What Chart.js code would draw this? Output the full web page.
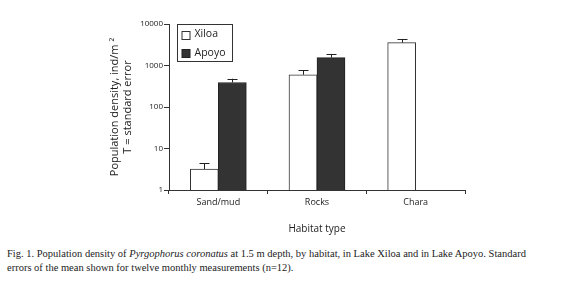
<!DOCTYPE html>
<html lang="en">

<head>
    <meta charset="UTF-8">
    <title>Pyrgophorus coronatus</title>
    <script src="https://cdn.jsdelivr.net/npm/chart.js"></script>
    <style>
        body { margin: 0; background: #fff; }
        .janela { position: relative; width: 580px; height: 283px; background: #fff; }
        #myChart { position: absolute; left: 0; top: 0; }
        .legenda {
            position: absolute; left: 7px; top: 247px;
            font-family: "Liberation Serif", serif; font-size: 10.5px; line-height: 14px; color: #222;
            white-space: nowrap;
        }
    </style>
</head>

<body>
    <div class="janela">
        <canvas id="myChart" width="580" height="240"></canvas>
        <div class="legenda">
            Fig. 1. Population density of <i>Pyrgophorus coronatus</i> at 1.5 m depth, by habitat, in Lake Xiloa and in Lake Apoyo. Standard<br>
            errors of the mean shown for twelve monthly measurements (n=12).
        </div>
    </div>
</body>

<script>
    // dados
    var habitats = ['Sand/mud', 'Rocks', 'Chara'];
    var xiloa = [3.2, 600, 3550];
    var xiloaErro = [1.2, 160, 810];
    var apoyo = [390, 1550, null];
    var apoyoErro = [90, 350, null];
    var yTicks = [1, 10, 100, 1000, 10000];

    var fonte = 'Open Sans, Liberation Sans, sans-serif';
    var corTexto = '#222';

    // barras de erro (so a parte de cima, com traço)
    const errorBars = {
        id: 'errorBars',
        afterDatasetsDraw(chart) {
            const ctx = chart.ctx;
            const y = chart.scales.y;
            ctx.save();
            ctx.strokeStyle = '#222';
            ctx.lineWidth = 1;
            chart.data.datasets.forEach(function (ds, i) {
                const meta = chart.getDatasetMeta(i);
                meta.data.forEach(function (bar, j) {
                    const v = ds.data[j];
                    const e = ds.erros[j];
                    if (v == null || e == null) return;
                    const topo = y.getPixelForValue(v + e);
                    const x = Math.round(bar.x) + 0.5;
                    ctx.beginPath();
                    ctx.moveTo(x, bar.y);
                    ctx.lineTo(x, topo);
                    ctx.moveTo(x - 5, Math.round(topo) + 0.5);
                    ctx.lineTo(x + 5, Math.round(topo) + 0.5);
                    ctx.stroke();
                });
            });
            ctx.restore();
        }
    };

    // caixa de legenda desenhada a mao
    const caixaLegenda = {
        id: 'caixaLegenda',
        afterDraw(chart) {
            const ctx = chart.ctx;
            const area = chart.chartArea;
            const x0 = area.left + 8.5, y0 = area.top + 0.5;
            ctx.save();
            ctx.strokeStyle = '#333';
            ctx.lineWidth = 1;
            ctx.fillStyle = '#fff';
            ctx.fillRect(x0, y0, 55, 37);
            ctx.strokeRect(x0, y0, 55, 37);
            ctx.font = '10.5px ' + fonte;
            ctx.textBaseline = 'middle';
            chart.data.datasets.forEach(function (ds, i) {
                const cy = y0 + 10 + i * 18.5;
                ctx.fillStyle = ds.backgroundColor;
                ctx.fillRect(x0 + 4.5, Math.round(cy - 4) + 0.5, 8, 8);
                ctx.strokeStyle = ds.borderColor;
                ctx.strokeRect(x0 + 4.5, Math.round(cy - 4) + 0.5, 8, 8);
                ctx.fillStyle = corTexto;
                ctx.fillText(ds.label, x0 + 17, cy);
            });
            ctx.restore();
        }
    };

    const config = {
        type: 'bar',
        data: {
            labels: habitats,
            datasets: [{
                label: 'Xiloa',
                data: xiloa,
                erros: xiloaErro,
                backgroundColor: '#ffffff',
                borderColor: '#333333',
                borderWidth: 1,
                barThickness: 28
            }, {
                label: 'Apoyo',
                data: apoyo,
                erros: apoyoErro,
                backgroundColor: '#333333',
                borderColor: '#222222',
                borderWidth: 1,
                barThickness: 28
            }]
        },
        options: {
            responsive: false,
            animation: false,
            layout: { padding: { left: 100, right: 115, top: 24, bottom: 0 } },
            plugins: {
                legend: { display: false },
                tooltip: { enabled: false }
            },
            scales: {
                x: {
                    offset: true,
                    grid: { offset: true, drawOnChartArea: false, tickLength: 4, color: '#333' },
                    border: { color: '#333', width: 1 },
                    ticks: { color: corTexto, font: { family: fonte, size: 9 }, padding: 3, maxRotation: 0 },
                    title: {
                        display: true, text: 'Habitat type', color: corTexto,
                        font: { family: fonte, size: 10 }, padding: { top: 0, bottom: 5 }
                    },
                    afterFit: function (s) { s.height = 50; }
                },
                y: {
                    type: 'logarithmic',
                    min: 1,
                    max: 10000,
                    afterBuildTicks: function (s) { s.ticks = yTicks.map(v => ({ value: v })); },
                    grid: { drawOnChartArea: false, tickLength: 5, color: '#333' },
                    border: { color: '#333', width: 1 },
                    ticks: {
                        color: corTexto, font: { family: fonte, size: 8 }, padding: 1,
                        callback: function (v) { return String(v); }
                    },
                    title: {
                        display: true,
                        text: ['Population density, ind/m ²', 'T = standard error'],
                        color: corTexto,
                        font: { family: fonte, size: 11, lineHeight: 1.2 },
                        padding: { top: 8, bottom: 0 }
                    },
                    afterFit: function (s) { s.width = 69; }
                }
            }
        },
        plugins: [errorBars, caixaLegenda]
    };

    let myChartP = new Chart(document.getElementById('myChart'), config);
</script>

</html>
